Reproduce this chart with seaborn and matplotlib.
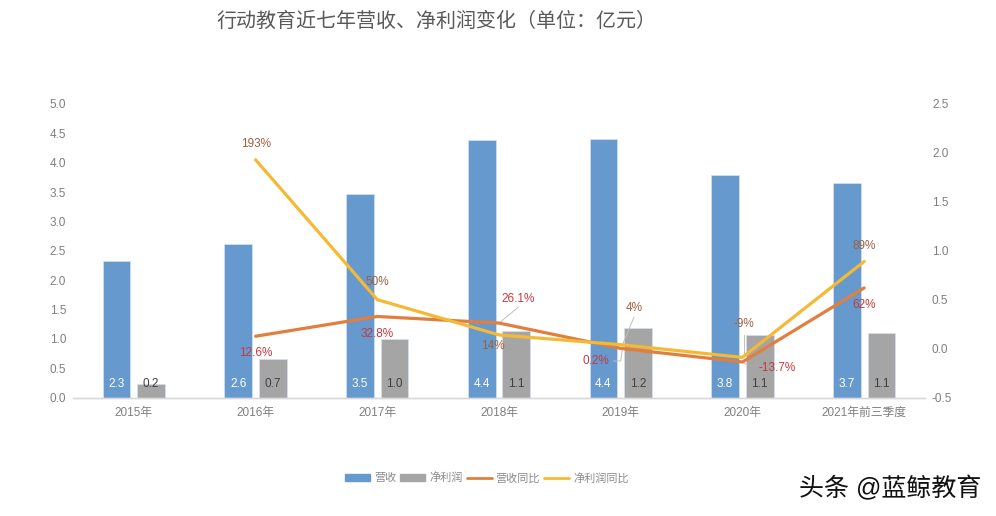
import pandas as pd
import seaborn as sns
import matplotlib.pyplot as plt
from matplotlib.lines import Line2D
from matplotlib.patches import Patch

sns.set_style("white")
plt.rcParams['font.family'] = ['Liberation Sans', 'Noto Sans CJK SC', 'DejaVu Sans']

years = ['2015年', '2016年', '2017年', '2018年', '2019年', '2020年', '2021年前三季度']
revenue = [2.32, 2.61, 3.47, 4.38, 4.40, 3.79, 3.66]
profit = [0.23, 0.66, 1.00, 1.14, 1.18, 1.07, 1.10]
revenue_yoy = [None, 0.126, 0.328, 0.261, 0.002, -0.137, 0.62]
profit_yoy = [None, 1.93, 0.50, 0.14, 0.04, -0.09, 0.89]

# label text and pixel offset from the point on the line
revenue_labels = [None, ('12.6%', 0, -17), ('32.8%', 0, -18), ('26.1%', 19, 24),
                  ('0.2%', -25, -13), ('-13.7%', 35, -6), ('62%', 0, -17)]
profit_labels = [None, ('193%', 0, 16), ('50%', 0, 18), ('14%', -6, -11),
                 ('4%', 13, 37), ('-9%', 1, 33), ('89%', 0, 16)]

# thin leader lines in right axis units
leaders = [
    ([3.01, 3.16], [0.27, 0.425]),
    ([4.11, 4.02], [0.323, 0.057]),
    ([3.94, 4.0, 4.02], [-0.127, -0.127, 0.057]),
    ([5.01, 5.01], [0.139, -0.076]),
    ([5.0, 5.04], [-0.137, -0.17]),
]

BLUE = '#6699CE'
GRAY = '#A5A5A5'
ORANGE = '#E07F3E'
YELLOW = '#F5B935'
TICK = '#7F7F7F'

bars = pd.DataFrame({
    'year': years * 2,
    'value': revenue + profit,
    'kind': ['营收'] * 7 + ['净利润'] * 7,
})

fig = plt.figure(figsize=(9.96, 5.16), dpi=100)
ax = fig.add_axes([73 / 996, (516 - 397.5) / 516, 852 / 996, 293.5 / 516])

sns.barplot(data=bars, x='year', y='value', hue='kind', palette=[BLUE, GRAY],
            width=0.568, gap=0.2, edgecolor='#D5E2F0', linewidth=0.5,
            saturation=1, legend=False, ax=ax)
ax.set_xlim(-0.5, 6.5)
ax.set_ylim(0, 5)
ax.set_yticks([0, 0.5, 1, 1.5, 2, 2.5, 3, 3.5, 4, 4.5, 5])
ax.set_yticklabels(['%.1f' % v for v in ax.get_yticks()])
ax.set_xlabel('')
ax.set_ylabel('')

# value labels sit at the foot of each bar
for container, color in zip(ax.containers, ['white', '#404040']):
    for p in container:
        ax.annotate('%.1f' % p.get_height(), (p.get_x() + p.get_width() / 2, 0),
                    xytext=(0, 13.5), textcoords='offset pixels', ha='center',
                    va='center', color=color, fontsize=8.5)

ax2 = ax.twinx()
for values, color in [(revenue_yoy, ORANGE), (profit_yoy, YELLOW)]:
    idx = [i for i, v in enumerate(values) if v is not None]
    sns.lineplot(x=idx, y=[values[i] for i in idx], color=color, linewidth=2.3,
                 sort=False, errorbar=None, ax=ax2)
ax2.lines[0].set_solid_capstyle('round')
ax2.lines[1].set_solid_capstyle('round')
ax2.set_xlim(-0.5, 6.5)
ax2.set_ylim(-0.5, 2.5)
ax2.set_yticks([-0.5, 0, 0.5, 1, 1.5, 2, 2.5])
ax2.set_yticklabels(['%.1f' % v for v in ax2.get_yticks()])
ax2.set_ylabel('')

for xs, ys in leaders:
    ax2.plot(xs, ys, color='#BFBFBF', linewidth=0.7, zorder=1)

for values, labels, color in [(revenue_yoy, revenue_labels, '#C9383C'),
                              (profit_yoy, profit_labels, '#9C6240')]:
    for i, lab in enumerate(labels):
        if lab is None:
            continue
        ax2.annotate(lab[0], (i, values[i]), xytext=(lab[1], lab[2]),
                     textcoords='offset pixels', ha='center', va='center',
                     color=color, fontsize=8.5, zorder=5)

for a in (ax, ax2):
    for side in ('top', 'left', 'right'):
        a.spines[side].set_visible(False)
    a.spines['bottom'].set_color('#D9D9D9')
    a.spines['bottom'].set_linewidth(1)
    a.tick_params(axis='both', length=0, pad=5, labelsize=8.5, labelcolor=TICK)
ax.tick_params(axis='x', pad=6.5)
ax2.grid(False)
ax.grid(False)

fig.text(436.5 / 996, 1 - 21.5 / 516, '行动教育近七年营收、净利润变化（单位：亿元）', ha='center',
         va='center', fontsize=14.4, color='#595959')

handles = [Patch(color=BLUE), Patch(color=GRAY),
           Line2D([], [], color=ORANGE, linewidth=2),
           Line2D([], [], color=YELLOW, linewidth=2)]
fig.legend(handles, ['营收', '净利润', '营收同比', '净利润同比'], ncol=4,
           loc='center', bbox_to_anchor=(487 / 996, 1 - 478 / 516), frameon=False,
           fontsize=8, labelcolor='#8C8C8C', handlelength=2.25, handleheight=0.6,
           handletextpad=0.36, columnspacing=0.36, borderpad=0)

fig.text(890 / 996, 1 - 489 / 516, '头条 @蓝鲸教育', ha='center', va='center',
         fontsize=18, color='#111111')

fig.savefig('out.png', dpi=100)
